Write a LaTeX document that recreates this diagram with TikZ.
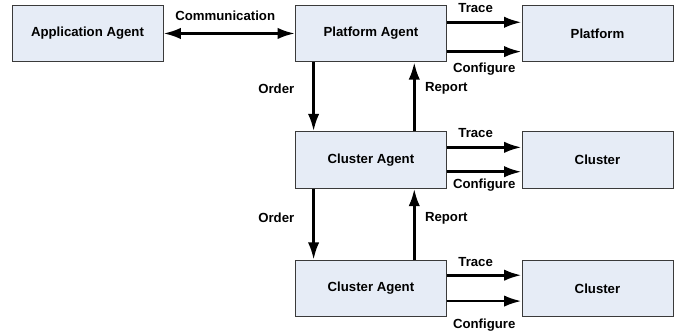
\documentclass[tikz,border=0pt]{standalone}
\usepackage{fontspec}
\setmainfont{Liberation Sans}
\usepackage{tikz}
\usetikzlibrary{shapes,arrows.meta,calc}
\definecolor{boxfill}{HTML}{E6ECF6}
\definecolor{boxline}{HTML}{3A3A3A}
\tikzstyle{line} = [draw, line width=2pt, -{Latex[length=13pt,width=8.5pt]}]
\tikzstyle{biline} = [draw, line width=2pt, {Latex[length=13pt,width=8.5pt]}-{Latex[length=13pt,width=8.5pt]}]
\tikzstyle{block} = [draw=boxline, fill=boxfill, line width=0.7pt, rectangle, text centered, minimum width=113.25pt, minimum height=42.5pt]
\tikzstyle{lbl} = [inner sep=0pt]

\begin{document}
\begin{tikzpicture}[node distance=169.9pt, font=\fontsize{9.9}{12}\selectfont\bfseries]
        \useasboundingbox (0,0) rectangle (510.75pt,-251.25pt);
        \node[block] at (65.6pt,-25.1pt) (app) {Application Agent};
        \node[block, right of=app, node distance=212.6pt] (pagent) {Platform Agent};
        \node[block, right of=pagent] (platform) {Platform};
        \node[block, below of=pagent, node distance=94.9pt] (cagent1) {Cluster Agent};
        \node[block, right of=cagent1] (cluster1) {Cluster};
        \node[block, below of=cagent1, node distance=96.4pt] (cagent2) {Cluster Agent};
        \node[block, right of=cagent2] (cluster2) {Cluster};
        % agent to agent
        \path[biline] (app) -- node[lbl, yshift=13.5pt, xshift=-3pt] {Communication} (pagent);
        % platform level
        \path[line] ([yshift=8.4pt]pagent.east) -- node[lbl, yshift=10.7pt, xshift=-6.4pt] {Trace} ([yshift=8.4pt]platform.west);
        \path[line] ([yshift=-13.6pt]pagent.east) -- node[lbl, yshift=-13pt] {Configure} ([yshift=-13.6pt]platform.west);
        \path[line] ([xshift=-43pt]pagent.south) -- node[lbl, xshift=-28pt, yshift=6pt] {Order} ([xshift=-43pt]cagent1.north);
        \path[line] ([xshift=32.5pt]cagent1.north) -- node[lbl, xshift=24pt, yshift=6pt] {Report} ([xshift=32.5pt]pagent.south);
        % first cluster
        \path[line] ([yshift=9.5pt]cagent1.east) -- node[lbl, yshift=10.7pt, xshift=-6.4pt] {Trace} ([yshift=9.5pt]cluster1.west);
        \path[line] ([yshift=-8.8pt]cagent1.east) -- node[lbl, yshift=-10pt] {Configure} ([yshift=-8.8pt]cluster1.west);
        \path[line] ([xshift=-43pt]cagent1.south) -- node[lbl, xshift=-28pt, yshift=4.5pt] {Order} ([xshift=-43pt]cagent2.north);
        \path[line] ([xshift=32.5pt]cagent2.north) -- node[lbl, xshift=24pt, yshift=4.5pt] {Report} ([xshift=32.5pt]cagent1.south);
        % second cluster
        \path[line] ([yshift=10pt]cagent2.east) -- node[lbl, yshift=10pt, xshift=-6.4pt] {Trace} ([yshift=10pt]cluster2.west);
        \path[line] ([yshift=-9.4pt]cagent2.east) -- node[lbl, yshift=-18pt] {Configure} ([yshift=-9.4pt]cluster2.west);
    \end{tikzpicture}
\end{document}
